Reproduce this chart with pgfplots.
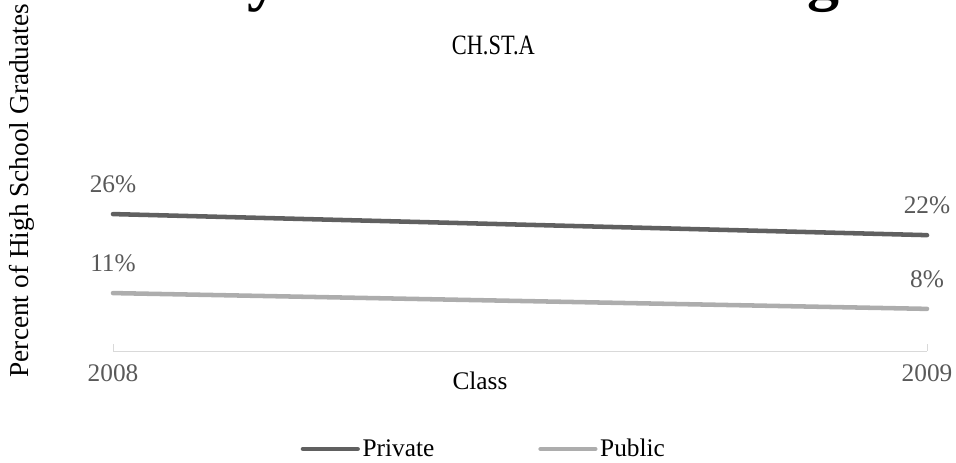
\documentclass[border=0pt]{standalone}
\usepackage{fontspec}
\setmainfont{Liberation Serif}
\usepackage{pgfplots}
\pgfplotsset{compat=1.18}

\definecolor{privgray}{HTML}{606060}
\definecolor{pubgray}{HTML}{ADADAD}
\definecolor{lblgray}{HTML}{595959}
\definecolor{axisgray}{HTML}{D9D9D9}

\begin{document}
\begin{tikzpicture}
\begin{axis}[
  at={(84.75pt,83.25pt)}, anchor=south west,
  scale only axis, width=610.5pt, height=237pt,
  xmin=2008, xmax=2009, ymin=0, ymax=60,
  axis x line*=bottom, axis y line=none,
  x axis line style={draw=axisgray, line width=0.75pt, -},
  xtick={2008,2009}, xticklabels={2008,2009},
  major tick length=5.25pt, tick align=inside,
  tick style={draw=axisgray, line width=0.75pt},
  xticklabel style={font=\fontsize{19}{22}\selectfont, text=lblgray, anchor=center, yshift=-17pt},
  /pgf/number format/assume math mode=true,
  clip=false,
  nodes near coords={\pgfmathprintnumber{\pgfplotspointmeta}\%},
  every node near coord/.append style={font=\fontsize{19}{22}\selectfont, text=lblgray, anchor=center, yshift=22.5pt},
  legend columns=2,
  legend style={draw=none, fill=none, at={(axis description cs:0.456,-0.31)}, anchor=center,
    font=\fontsize{19}{22}\selectfont, inner sep=0pt,
    /tikz/every even column/.append style={column sep=76pt}},
  legend image code/.code={\draw[#1, line width=3.4pt, line cap=round] (0pt,0pt) -- (41pt,0pt);},
]
\addplot[privgray, line width=3.4pt, line cap=round] coordinates {(2008,26) (2009,22)};
\addlegendentry{Private}
\addplot[pubgray, line width=3.4pt, line cap=round] coordinates {(2008,11) (2009,8)};
\addlegendentry{Public}
\end{axis}
\node[anchor=base west, font=\fontsize{48}{52}\selectfont\bfseries] at (91.1pt,348pt) {Early Interest in Teaching};
\node[font=\fontsize{21}{24}\selectfont, xscale=0.8] at (370pt,312.4pt) {CH.ST.A};
\node[rotate=90, font=\fontsize{20.5}{24}\selectfont] at (16.5pt,203.5pt) {Percent of High School Graduates};
\node[font=\fontsize{19}{22}\selectfont] at (360pt,60.75pt) {Class};
\pgfresetboundingbox
\useasboundingbox (0pt,0pt) rectangle (717pt,346.5pt);
\end{tikzpicture}
\end{document}
